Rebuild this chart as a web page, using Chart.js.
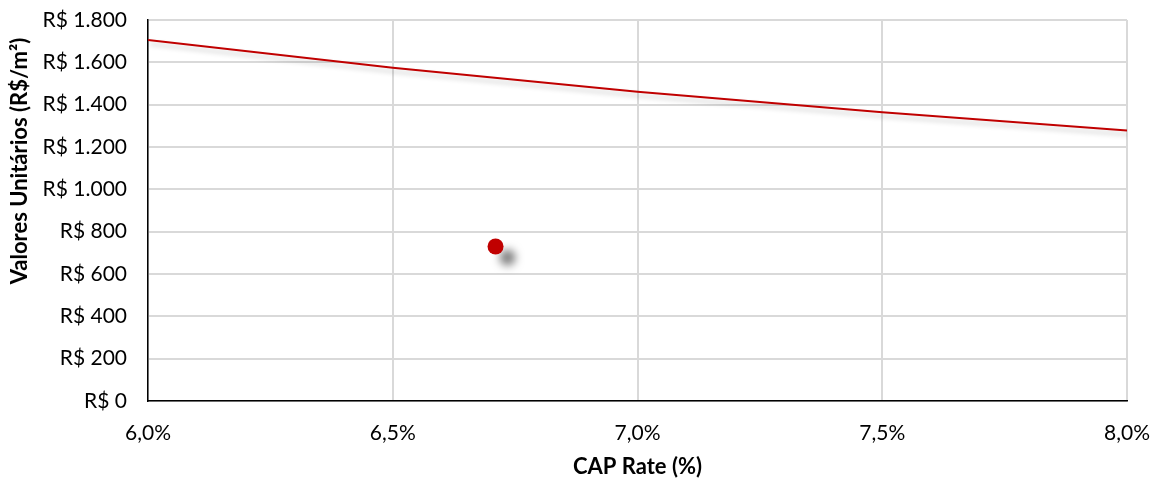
<!DOCTYPE html>
<html>
<head>
<meta charset="utf-8">
<script src="https://cdn.jsdelivr.net/npm/chart.js@4/dist/chart.umd.min.js"></script>
<style>
  html, body { margin: 0; padding: 0; background: #fff; }
  #wrap { width: 1163px; height: 481px; position: relative; }
</style>
</head>
<body>
<div id="wrap"><canvas id="c" width="1163" height="481"></canvas></div>
<script>
// Curve: unit value vs CAP rate
const capRates = [6.0, 6.5, 7.0, 7.5, 8.0];
const unitValues = [1705, 1574, 1461, 1364, 1278];
// Highlighted point
const pointCap = [6.71];
const pointValue = [730];
// Axis ticks
const xTicks = [6.0, 6.5, 7.0, 7.5, 8.0];
const yMin = 0, yMax = 1800, yStep = 200;
// Titles
const xTitle = 'CAP Rate (%)';
const yTitle = 'Valores Unitários (R$/m²)';

const FONT = "Lato, 'Open Sans', 'Liberation Sans', sans-serif";

const shadowPlugin = {
  id: 'shadow',
  beforeDatasetDraw(chart, args) {
    const ctx = chart.ctx;
    ctx.save();
    if (args.index === 0) {
      ctx.shadowColor = 'rgba(0,0,0,0.22)';
      ctx.shadowBlur = 5;
      ctx.shadowOffsetX = 2;
      ctx.shadowOffsetY = 4;
    } else {
      ctx.shadowColor = 'rgba(0,0,0,0.5)';
      ctx.shadowBlur = 8;
      ctx.shadowOffsetX = 12;
      ctx.shadowOffsetY = 11;
    }
  },
  afterDatasetDraw(chart) {
    chart.ctx.restore();
  }
};

// Y axis title placed like the original (slightly above plot centre)
const yTitlePlugin = {
  id: 'yTitle',
  afterDraw(chart) {
    const ctx = chart.ctx;
    ctx.save();
    ctx.font = "bold 22px " + FONT;
    ctx.fillStyle = '#000';
    ctx.textAlign = 'center';
    ctx.textBaseline = 'middle';
    ctx.translate(20, 161);
    ctx.rotate(-Math.PI / 2);
    ctx.fillText(yTitle, 0, 0);
    ctx.restore();
  }
};

const fmtThousands = v => String(Math.round(v)).replace(/\B(?=(\d{3})+(?!\d))/g, '.');

new Chart(document.getElementById('c'), {
  type: 'scatter',
  data: {
    datasets: [
      {
        data: capRates.map((x, i) => ({ x: x, y: unitValues[i] })),
        showLine: true,
        borderColor: '#c00000',
        borderWidth: 2,
        pointRadius: 0,
        fill: false,
        tension: 0
      },
      {
        data: pointCap.map((x, i) => ({ x: x, y: pointValue[i] })),
        showLine: false,
        pointRadius: 8,
        pointBackgroundColor: '#c00000',
        pointBorderColor: '#c00000',
        pointBorderWidth: 0
      }
    ]
  },
  plugins: [shadowPlugin, yTitlePlugin],
  options: {
    responsive: false,
    animation: false,
    devicePixelRatio: 1,
    layout: { padding: { top: 20, right: 36, left: 0, bottom: 0 } },
    plugins: { legend: { display: false }, tooltip: { enabled: false } },
    scales: {
      x: {
        type: 'linear',
        min: xTicks[0],
        max: xTicks[xTicks.length - 1],
        afterBuildTicks(scale) { scale.ticks = xTicks.map(v => ({ value: v })); },
        afterFit(scale) { scale.height = 80; scale.paddingLeft = 0; scale.paddingRight = 0; },
        ticks: {
          callback: v => v.toFixed(1).replace('.', ',') + '%',
          font: { family: FONT, size: 21 },
          color: '#000',
          padding: 20,
          maxRotation: 0,
          autoSkip: false
        },
        grid: { color: '#d9d9d9', lineWidth: 2, drawTicks: false },
        border: { color: '#000', width: 1.5 },
        title: {
          display: true,
          text: xTitle,
          font: { family: FONT, size: 22, weight: 'bold' },
          color: '#000',
          padding: { top: 0, bottom: 1 }
        }
      },
      y: {
        min: yMin,
        max: yMax,
        afterFit(scale) { scale.width = 148; scale.paddingTop = 0; scale.paddingBottom = 0; },
        ticks: {
          stepSize: yStep,
          callback: v => 'R$ ' + fmtThousands(v),
          font: { family: FONT, size: 21 },
          color: '#000',
          padding: 21
        },
        grid: { color: '#d9d9d9', lineWidth: 2, drawTicks: false },
        border: { color: '#000', width: 1.5 },
        title: { display: false }
      }
    }
  }
});
</script>
</body>
</html>
